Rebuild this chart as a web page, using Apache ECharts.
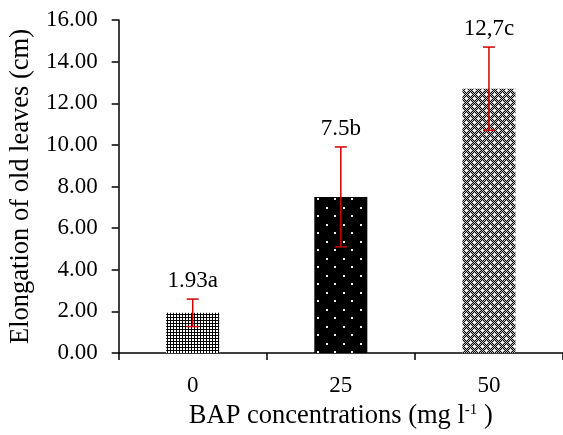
<!DOCTYPE html>
<html><head><meta charset="utf-8">
<script src="https://cdn.jsdelivr.net/npm/echarts@6/dist/echarts.min.js"></script>
<style>html,body{margin:0;padding:0;background:#fff}#c{width:563px;height:435px}</style>
</head><body><div id="c"></div>
<script>
const categories = ['0', '25', '50'];
const means = [1.93, 7.5, 12.7];
const errors = [0.66, 2.4, 2.0];
const barLabels = ['1.93a', '7.5b', '12,7c'];

const FONT = "'Liberation Serif','Times New Roman',serif";
const FS = 23;
const FT = 26.5;

function mk(w, h, draw) {
  const c = document.createElement('canvas'); c.width = w; c.height = h;
  const g = c.getContext('2d'); draw(g); return c;
}
const pat1 = mk(3, 3, g => { g.fillStyle = '#000'; g.fillRect(0, 0, 3, 3); g.fillStyle = '#fff'; g.fillRect(0, 0, 2, 2); });
const pat2 = mk(17, 17, g => { g.fillStyle = '#000'; g.fillRect(0, 0, 17, 17); g.fillStyle = '#eee'; g.fillRect(3, 3, 2, 2); g.fillRect(11, 11, 2, 2); });
const pat3 = mk(8, 8, g => {
  for (let y = 0; y < 8; y++) for (let x = 0; x < 8; x++) { g.fillStyle = ((x + y) % 2) ? '#000' : '#bbb'; g.fillRect(x, y, 1, 1); }
  g.fillStyle = '#fff';
  g.fillRect(1, 2, 3, 1); g.fillRect(2, 1, 1, 3);
  g.fillRect(5, 6, 3, 1); g.fillRect(6, 5, 1, 3);
});
const pats = [pat1, pat2, pat3];

const chart = echarts.init(document.getElementById('c'), null, { renderer: 'canvas' });
chart.setOption({
  animation: false,
  backgroundColor: '#fff',
  grid: { left: 116, right: -3, top: 20, bottom: 76 },
  xAxis: {
    type: 'category', data: categories,
    axisLine: { lineStyle: { color: '#000', width: 1.5 } },
    axisTick: { show: true, length: 7, lineStyle: { color: '#000', width: 1.5 } },
    axisLabel: { color: '#000', fontFamily: FONT, fontSize: FS, margin: 21 },
    name: '{a|BAP concentrations (mg l}{s|-1}{a| )}',
    nameLocation: 'middle', nameGap: 50,
    nameTextStyle: {
      rich: {
        a: { fontFamily: FONT, fontSize: FT, color: '#000' },
        s: { fontFamily: FONT, fontSize: 15, color: '#000', verticalAlign: 'top', padding: [0, 0, 9, 0] }
      }
    }
  },
  yAxis: {
    type: 'value', min: 0, max: 16, interval: 2,
    axisLine: { show: true, lineStyle: { color: '#000', width: 1.5 } },
    axisTick: { show: true, length: 7, lineStyle: { color: '#000', width: 1.5 } },
    splitLine: { show: false },
    axisLabel: { color: '#000', fontFamily: FONT, fontSize: FS, margin: 21, formatter: v => v.toFixed(2) },
    name: 'Elongation of old leaves (cm)', nameLocation: 'middle', nameGap: 83,
    nameTextStyle: { fontFamily: FONT, fontSize: FT, color: '#000' }
  },
  series: [
    {
      type: 'bar', barWidth: 53,
      data: means.map((v, i) => ({ value: v, itemStyle: { color: { image: pats[i], repeat: 'repeat' } } }))
    },
    {
      type: 'custom', z: 5, clip: false,
      data: categories.map((c, i) => [i, means[i], errors[i]]),
      renderItem: function (params, api) {
        const x = api.coord([api.value(0), 0])[0];
        const hi = api.coord([api.value(0), api.value(1) + api.value(2)])[1];
        const lo = api.coord([api.value(0), api.value(1) - api.value(2)])[1];
        const cap = 6;
        const st = { stroke: '#d00000', lineWidth: 1.5 };
        return {
          type: 'group', children: [
            { type: 'line', shape: { x1: x, y1: hi, x2: x, y2: lo }, style: st },
            { type: 'line', shape: { x1: x - cap, y1: hi, x2: x + cap, y2: hi }, style: st },
            { type: 'line', shape: { x1: x - cap, y1: lo, x2: x + cap, y2: lo }, style: st },
            { type: 'text', style: { text: barLabels[params.dataIndex], x: x, y: hi - 7, align: 'center', verticalAlign: 'bottom', fontFamily: FONT, fontSize: FS, fill: '#000' } }
          ]
        };
      }
    }
  ]
});
</script>
</body></html>
